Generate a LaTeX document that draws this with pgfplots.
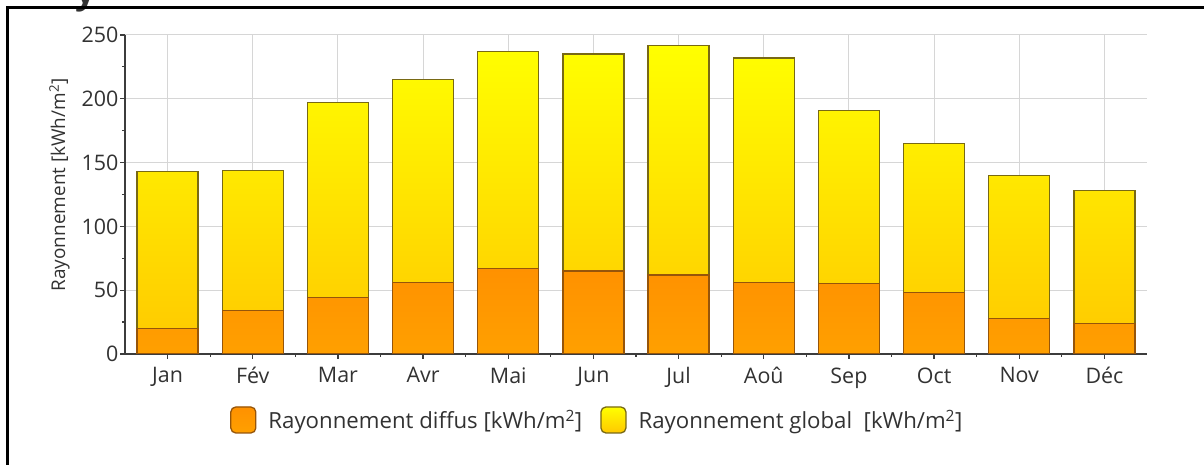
\documentclass[border=0pt]{standalone}
\usepackage{pgfplots}
\pgfplotsset{compat=1.18}
\usepackage{fontspec}
\setmainfont{Open Sans}

\definecolor{gridc}{RGB}{214,214,214}
\definecolor{axisc}{RGB}{60,60,60}
\definecolor{txtc}{RGB}{50,50,50}
\definecolor{globtop}{RGB}{255,255,0}
\definecolor{globbot}{RGB}{255,200,0}
\definecolor{globline}{RGB}{120,105,20}
\definecolor{difftop}{RGB}{255,145,0}
\definecolor{diffbot}{RGB}{255,160,0}
\definecolor{diffline}{RGB}{150,85,10}

% monthly irradiation, kWh/m2
\pgfplotstableread{
x global diffus
0  143 20
1  144 34
2  197 44
3  215 56
4  237 67
5  235 65
6  242 62
7  232 56
8  191 55
9  165 48
10 140 28
11 128 24
}\radtable

\begin{document}
\begin{tikzpicture}[x=1bp,y=1bp]
\useasboundingbox (0,0) rectangle (1204,465);
\node[font=\fontsize{36}{40}\selectfont\bfseries, anchor=base, txtc] at (86,461) {y};
\draw[line width=3bp] (7,-5) -- (7,457) -- (1210,457);
\begin{axis}[
    at={(125bp,111bp)}, anchor=south west,
    scale only axis,
    width=1022bp, height=319bp,
    xmin=-0.5, xmax=11.5,
    ymin=0, ymax=250,
    axis lines*=left,
    axis line style={axisc, line width=1.3bp},
    xtick={0,...,11},
    xticklabels={Jan,Fév,Mar,Avr,Mai,Jun,Jul,Aoû,Sep,Oct,Nov,Déc},
    ytick={0,50,...,250},
    minor x tick num=1,
    minor y tick num=1,
    tick align=outside,
    major tick length=5bp,
    minor tick length=3bp,
    tick style={axisc, line width=1.2bp},
    grid=major,
    grid style={gridc, line width=1bp},
    ticklabel style={font=\fontsize{21.5}{24}\selectfont, text=txtc},
    xticklabel style={yshift=-5bp},
    yticklabel style={xshift=2bp},
    /pgf/number format/assume math mode=true,
    ylabel={Rayonnement [kWh/m\textsuperscript{2}]},
    ylabel style={at={(axis description cs:-0.064,0.53)}, anchor=center,
        font=\fontsize{19}{22}\selectfont, text=txtc},
    legend columns=2,
    legend style={at={(axis description cs:0.1027,-0.2069)}, anchor=west,
        draw=none, fill=none, inner sep=0pt,
        font=\fontsize{22.3}{25}\selectfont, text=txtc,
        /tikz/every odd column/.append style={column sep=10bp},
        /tikz/every even column/.append style={column sep=16bp}},
]
\addplot[ybar, bar width=61bp, bar shift=0pt,
    top color=globtop, bottom color=globbot, draw=globline, line width=1.3bp,
    forget plot]
    table[x=x, y=global] {\radtable};
\addplot[ybar, bar width=61bp, bar shift=0pt,
    top color=difftop, bottom color=diffbot, draw=diffline, line width=1.3bp,
    legend image code/.code={\draw[fill=difftop, draw=diffline, line width=1.3bp, rounded corners=5bp] (0bp,-13bp) rectangle (25bp,13bp);}]
    table[x=x, y=diffus] {\radtable};
\addlegendentry{Rayonnement diffus [kWh/m\textsuperscript{2}]}
\addlegendimage{legend image code/.code={\draw[top color=globtop, bottom color=globbot, draw=globline, line width=1.3bp, rounded corners=5bp] (0bp,-13bp) rectangle (25bp,13bp);}}
\addlegendentry{Rayonnement global\ \ [kWh/m\textsuperscript{2}]}
\end{axis}
\end{tikzpicture}
\end{document}
